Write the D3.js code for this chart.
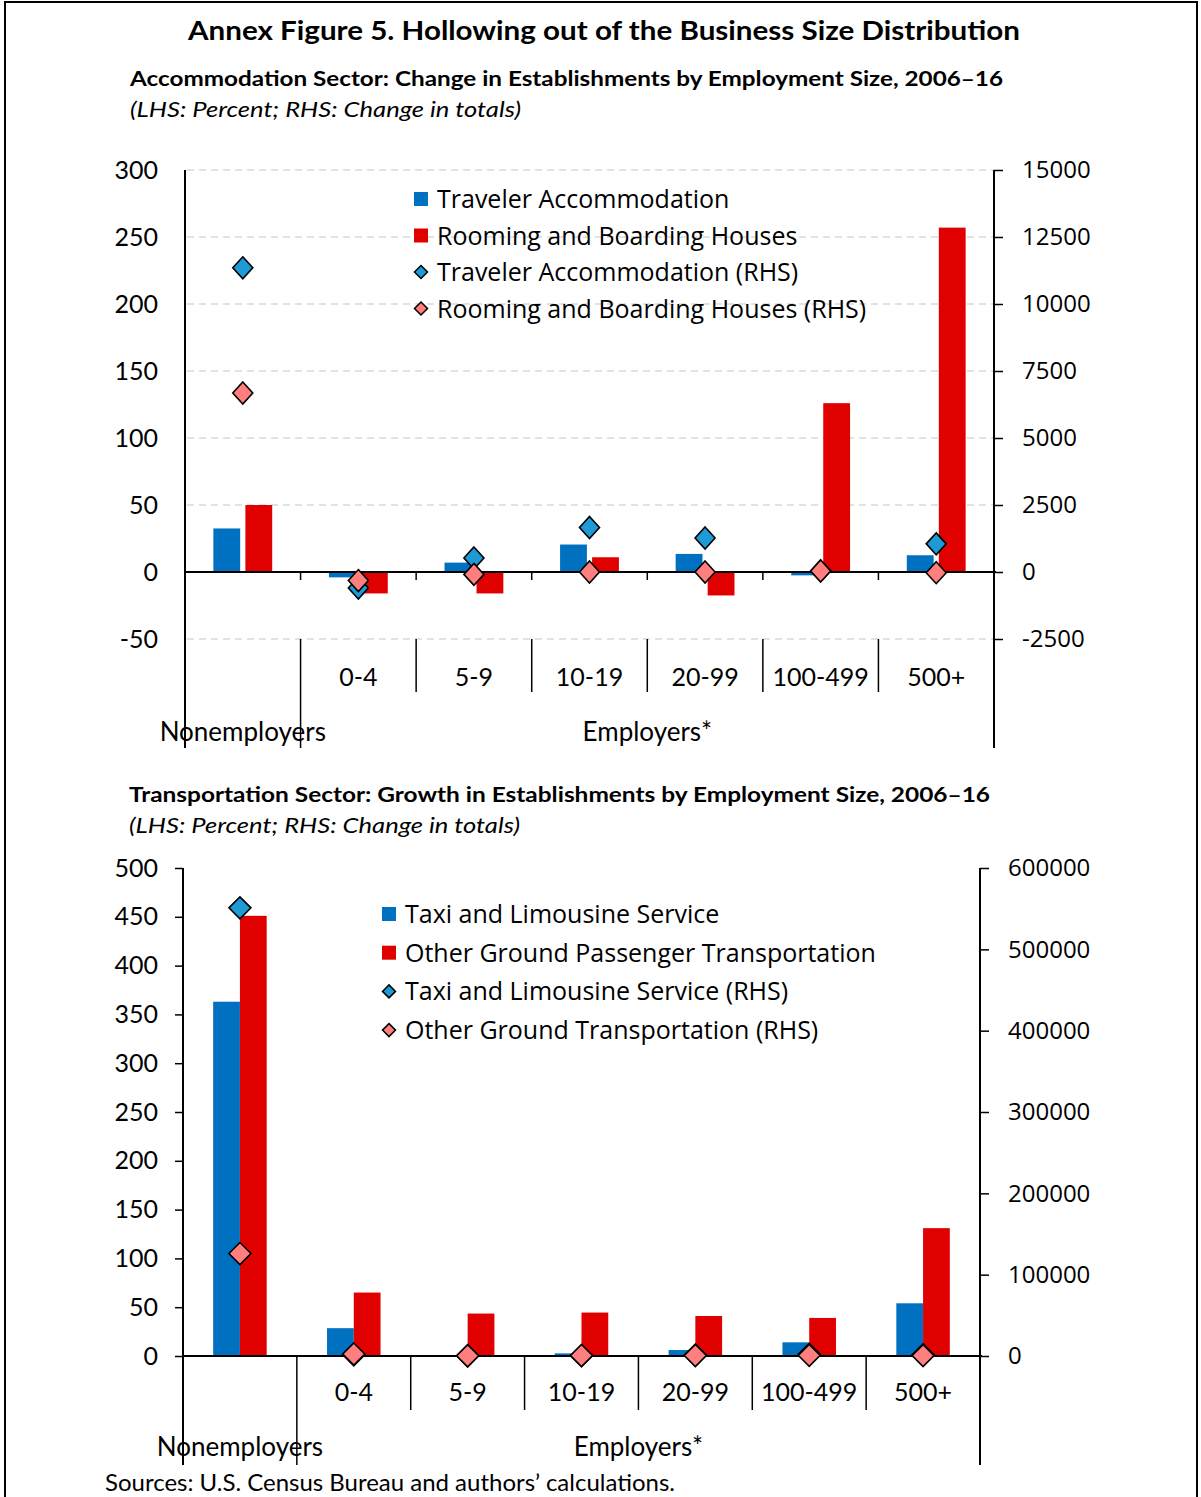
<!DOCTYPE html>
<html><head><meta charset="utf-8">
<script src="https://cdn.jsdelivr.net/npm/d3@7"></script>
<style>
body{margin:0;background:#fff;}
svg{display:block;}
text{fill:#000;}
</style></head>
<body>
<svg id="chart" width="1201" height="1497"></svg>
<script>
// ---------- DATA ----------
const categories = ["Nonemployers","0-4","5-9","10-19","20-99","100-499","500+"];
const sizeLabels = ["", "0-4","5-9","10-19","20-99","100-499","500+"];

// Accommodation sector (LHS percent, RHS change in totals)
const accomTravelerPct = [32.5, -4, 7, 20.5, 13.5, -2.5, 12.5];
const accomRoomingPct  = [50, -16, -16, 11, -17.5, 126, 257];
const accomTravelerRHS = [11350, -600, 520, 1660, 1270, 40, 1050];
const accomRoomingRHS  = [6680, -320, -90, 0, 0, 40, -25];
const accomLeftTicks  = [-50, 0, 50, 100, 150, 200, 250, 300];
const accomRightTicks = [-2500, 0, 2500, 5000, 7500, 10000, 12500, 15000];
const accomLegend = ["Traveler Accommodation","Rooming and Boarding Houses","Traveler Accommodation (RHS)","Rooming and Boarding Houses (RHS)"];

// Transportation sector
const transTaxiPct  = [363, 28.5, 0.5, 2.7, 6.1, 14, 54];
const transOtherPct = [451, 65, 43.5, 44.5, 41, 39, 131];
const transTaxiRHS  = [551000, 1500, 200, 400, 1200, 2000, 1500];
const transOtherRHS = [126000, 2500, 300, 600, 600, 800, 500];
const transLeftTicks  = [0, 50, 100, 150, 200, 250, 300, 350, 400, 450, 500];
const transRightTicks = [0, 100000, 200000, 300000, 400000, 500000, 600000];
const transLegend = ["Taxi and Limousine Service","Other Ground Passenger Transportation","Taxi and Limousine Service (RHS)","Other Ground Transportation (RHS)"];

// ---------- STYLE ----------
const BLUE = "#0070C0", RED = "#E00000", DBLUE = "#1E9AD6", DRED = "#FF7F7F";
const svg = d3.select("#chart");
const calibri = "Lato, 'Open Sans', sans-serif";
const segoe = "'Open Sans', 'Noto Sans', sans-serif";
const fmt = d => String(d); // plain hyphen-minus like the original

// frame
svg.append("rect").attr("x",5).attr("y",2).attr("width",1192).attr("height",1510)
  .attr("fill","none").attr("stroke","#000").attr("stroke-width",2);

function fitText(sel, w){ sel.attr("textLength", w).attr("lengthAdjust","spacingAndGlyphs"); }

// titles
fitText(svg.append("text").attr("x",188).attr("y",40).attr("font-family",calibri).attr("font-weight","bold").attr("font-size",26)
  .text("Annex Figure 5. Hollowing out of the Business Size Distribution"), 832);

function diamondPath(cx, cy, w, h){
  const p = d3.path();
  p.moveTo(cx, cy-h/2); p.lineTo(cx+w/2, cy); p.lineTo(cx, cy+h/2); p.lineTo(cx-w/2, cy); p.closePath();
  return p.toString();
}

function panel(cfg){
  const g = svg.append("g");
  // subtitle
  fitText(g.append("text").attr("x",cfg.subX).attr("y",cfg.subY).attr("font-family",calibri).attr("font-weight","bold")
    .attr("font-size",21).text(cfg.subtitle), cfg.subW);
  fitText(g.append("text").attr("x",cfg.subX).attr("y",cfg.subY+31).attr("font-family",calibri).attr("font-style","italic")
    .attr("font-size",21).text("(LHS: Percent; RHS: Change in totals)"), 391);

  const x = d3.scaleBand().domain(cfg.categories).range([cfg.x0, cfg.x1]).padding(0);
  const yL = d3.scaleLinear().domain(cfg.leftDomain).range([cfg.yBottom, cfg.yTop]);
  const yR = d3.scaleLinear().domain(cfg.rightDomain).range([cfg.yBottom, cfg.yTop]);
  const bw = x.bandwidth();
  const barW = bw*cfg.barFrac, gap = bw*cfg.gapFrac;

  // gridlines
  if (cfg.grid){
    g.append("g").selectAll("line").data(cfg.leftTicks.filter(d=>d!==0)).join("line")
      .attr("x1", cfg.x0+2).attr("x2", cfg.x1).attr("y1", d=>yL(d)).attr("y2", d=>yL(d))
      .attr("stroke","#d9d9d9").attr("stroke-width",1.5).attr("stroke-dasharray","7,5");
  }

  // bars
  const bars = g.append("g");
  const rowsB = cfg.categories.map((c,i)=>({c, v:cfg.blue[i]}));
  const rowsR = cfg.categories.map((c,i)=>({c, v:cfg.red[i]}));
  bars.selectAll(".b").data(rowsB).join("rect")
    .attr("x", d=>x(d.c)+bw/2-gap/2-barW).attr("width", barW)
    .attr("y", d=>Math.min(yL(d.v), yL(0))).attr("height", d=>Math.abs(yL(d.v)-yL(0)))
    .attr("fill", BLUE);
  bars.selectAll(".r").data(rowsR).join("rect")
    .attr("x", d=>x(d.c)+bw/2+gap/2).attr("width", barW)
    .attr("y", d=>Math.min(yL(d.v), yL(0))).attr("height", d=>Math.abs(yL(d.v)-yL(0)))
    .attr("fill", RED);

  // zero line
  g.append("line").attr("x1",cfg.x0).attr("x2",cfg.x1+2).attr("y1",yL(0)).attr("y2",yL(0))
    .attr("stroke","#000").attr("stroke-width",2);

  // small ticks on zero line (when zero is not the plot bottom)
  if (cfg.zeroTicks){
    g.append("g").selectAll("line").data(cfg.categories.slice(1)).join("line")
      .attr("x1", d=>x(d)).attr("x2", d=>x(d)).attr("y1", yL(0)).attr("y2", yL(0)+8)
      .attr("stroke","#000").attr("stroke-width",1.5);
  }

  // category separators
  const sepTop = cfg.yBottom;
  g.append("g").selectAll("line").data(cfg.categories.slice(2)).join("line")
    .attr("x1", d=>x(d)).attr("x2", d=>x(d)).attr("y1", sepTop).attr("y2", cfg.sepShortEnd)
    .attr("stroke","#000").attr("stroke-width",1.5);
  g.append("line").attr("x1", x(cfg.categories[1])).attr("x2", x(cfg.categories[1]))
    .attr("y1", sepTop).attr("y2", cfg.axisEnd).attr("stroke","#000").attr("stroke-width",1.5);

  // axis lines
  g.append("line").attr("x1",cfg.x0).attr("x2",cfg.x0).attr("y1",cfg.yTop).attr("y2",cfg.axisEnd).attr("stroke","#000").attr("stroke-width",2);
  g.append("line").attr("x1",cfg.x1).attr("x2",cfg.x1).attr("y1",cfg.yTop).attr("y2",cfg.axisEnd).attr("stroke","#000").attr("stroke-width",2);

  // left axis
  const la = g.append("g").attr("transform",`translate(${cfg.x0},0)`)
    .call(d3.axisLeft(yL).tickValues(cfg.leftTicks).tickSize(cfg.leftTickSize).tickSizeOuter(0).tickPadding(cfg.leftPad).tickFormat(fmt));
  la.select(".domain").remove();
  la.selectAll("line").attr("stroke","#000").attr("stroke-width",1.5);
  la.selectAll("text").attr("font-family",calibri).attr("font-size",25).attr("fill","#000");

  // right axis
  const ra = g.append("g").attr("transform",`translate(${cfg.x1},0)`)
    .call(d3.axisRight(yR).tickValues(cfg.rightTicks).tickSize(9).tickSizeOuter(0).tickPadding(cfg.rightPad).tickFormat(fmt));
  ra.select(".domain").remove();
  ra.selectAll("line").attr("stroke","#000").attr("stroke-width",1.5);
  ra.selectAll("text").attr("font-family",segoe).attr("font-size",24).attr("fill","#000");

  // diamonds
  const dm = g.append("g");
  dm.selectAll(".db").data(cfg.categories.map((c,i)=>({c,v:cfg.blueR[i]}))).join("path")
    .attr("d", d=>diamondPath(x(d.c)+bw/2, yR(d.v), cfg.dW, cfg.dH))
    .attr("fill", DBLUE).attr("stroke","#000").attr("stroke-width",1.6);
  dm.selectAll(".dr").data(cfg.categories.map((c,i)=>({c,v:cfg.redR[i]}))).join("path")
    .attr("d", d=>diamondPath(x(d.c)+bw/2, yR(d.v), cfg.dW, cfg.dH))
    .attr("fill", DRED).attr("stroke","#000").attr("stroke-width",1.6);

  // category labels
  g.append("g").selectAll("text").data(cfg.categories.slice(1)).join("text")
    .attr("x", d=>x(d)+bw/2).attr("y", cfg.sizeLabelY).attr("text-anchor","middle")
    .attr("font-family",calibri).attr("font-size",25).text((d,i)=>cfg.sizeLabels[i+1]);
  g.append("text").attr("x", x(cfg.categories[0])+bw/2).attr("y", cfg.groupLabelY).attr("text-anchor","middle")
    .attr("font-family",calibri).attr("font-size",26).text(cfg.categories[0]);
  g.append("text").attr("x", (x(cfg.categories[1])+cfg.x1)/2).attr("y", cfg.groupLabelY).attr("text-anchor","middle")
    .attr("font-family",calibri).attr("font-size",26).text("Employers*");

  // legend
  const lg = g.append("g");
  cfg.legend.forEach((t,i)=>{
    const cy = cfg.legY + i*cfg.legStep;
    if (i<2){
      lg.append("rect").attr("x",cfg.legX).attr("y",cy-7).attr("width",14).attr("height",14).attr("fill", i===0?BLUE:RED);
    } else {
      lg.append("path").attr("d", diamondPath(cfg.legX+7, cy, 13, 13)).attr("fill", i===2?DBLUE:DRED)
        .attr("stroke","#000").attr("stroke-width",1.5);
    }
    lg.append("text").attr("x",cfg.legX+23).attr("y",cy).attr("dy","0.36em")
      .attr("font-family",segoe).attr("font-size",25).text(t);
  });
}

panel({
  subtitle:"Accommodation Sector: Change in Establishments by Employment Size, 2006\u201316",
  subX:130, subY:86, subW:873,
  categories, sizeLabels,
  x0:185, x1:994, yTop:170, yBottom:639, axisEnd:748, sepShortEnd:692,
  leftDomain:[-50,300], rightDomain:[-2500,15000],
  leftTicks:accomLeftTicks, rightTicks:accomRightTicks,
  leftTickSize:0, leftPad:27, rightPad:19,
  grid:true, zeroTicks:true,
  blue:accomTravelerPct, red:accomRoomingPct, blueR:accomTravelerRHS, redR:accomRoomingRHS,
  barFrac:0.232, gapFrac:0.045, dW:20, dH:22,
  sizeLabelY:686, groupLabelY:741,
  legend:accomLegend, legX:414, legY:199, legStep:36.5
});

panel({
  subtitle:"Transportation Sector: Growth in Establishments by Employment Size, 2006\u201316",
  subX:129, subY:802, subW:861,
  categories, sizeLabels,
  x0:183, x1:980, yTop:868, yBottom:1356, axisEnd:1465, sepShortEnd:1410,
  leftDomain:[0,500], rightDomain:[0,600000],
  leftTicks:transLeftTicks, rightTicks:transRightTicks,
  leftTickSize:8, leftPad:17, rightPad:19,
  grid:false, zeroTicks:false,
  blue:transTaxiPct, red:transOtherPct, blueR:transTaxiRHS, redR:transOtherRHS,
  barFrac:0.235, gapFrac:0.0, dW:22, dH:22,
  sizeLabelY:1401, groupLabelY:1456,
  legend:transLegend, legX:382, legY:914, legStep:38.7
});

fitText(svg.append("text").attr("x",105).attr("y",1491).attr("font-family",calibri).attr("font-size",23)
  .text("Sources: U.S. Census Bureau and authors\u2019 calculations."), 570);
</script>
</body></html>
